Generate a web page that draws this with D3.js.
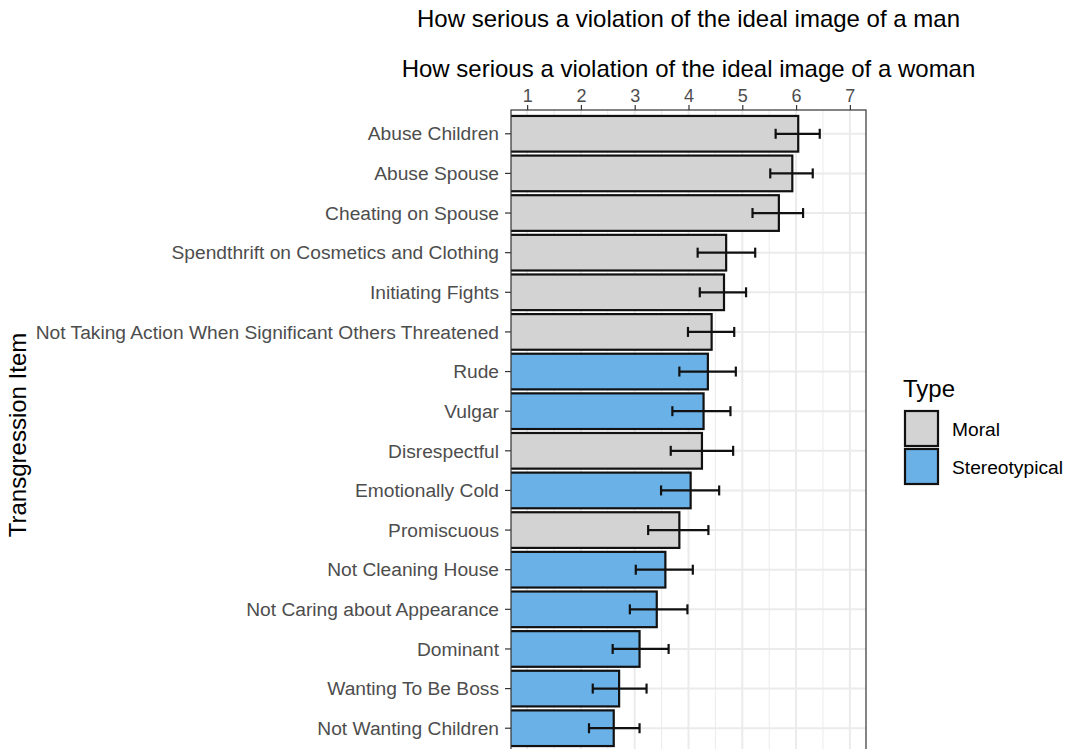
<!DOCTYPE html>
<html>
<head>
<meta charset="utf-8">
<script src="https://cdn.jsdelivr.net/npm/d3@7"></script>
<style>
  body { margin: 0; background: #fff; }
  text { font-family: "Liberation Sans", Arial, sans-serif; }
</style>
</head>
<body>
<div id="container"></div>
<script>
// Data (top to bottom)
const items = ["Abuse Children", "Abuse Spouse", "Cheating on Spouse",
  "Spendthrift on Cosmetics and Clothing", "Initiating Fights",
  "Not Taking Action When Significant Others Threatened", "Rude", "Vulgar",
  "Disrespectful", "Emotionally Cold", "Promiscuous", "Not Cleaning House",
  "Not Caring about Appearance", "Dominant", "Wanting To Be Boss", "Not Wanting Children"];
const means = [6.04, 5.93, 5.68, 4.70, 4.66, 4.43, 4.36, 4.28, 4.25, 4.04, 3.83, 3.57, 3.41, 3.09, 2.71, 2.61];
const lower = [5.62, 5.52, 5.19, 4.17, 4.21, 3.99, 3.83, 3.70, 3.67, 3.49, 3.25, 3.02, 2.91, 2.59, 2.22, 2.15];
const upper = [6.44, 6.31, 6.13, 5.24, 5.07, 4.85, 4.88, 4.78, 4.83, 4.57, 4.37, 4.08, 3.98, 3.63, 3.22, 3.09];
const types = ["Moral", "Moral", "Moral", "Moral", "Moral", "Moral", "Stereotypical", "Stereotypical",
  "Moral", "Stereotypical", "Moral", "Stereotypical", "Stereotypical", "Stereotypical", "Stereotypical", "Stereotypical"];
const typeLevels = ["Moral", "Stereotypical"];
const xTicks = [1, 2, 3, 4, 5, 6, 7];

const data = items.map((d, i) => ({item: d, mean: means[i], lo: lower[i], hi: upper[i], type: types[i]}));

const width = 1075, height = 749;
const panel = {left: 511, right: 866, top: 110, bottom: 752};

const svg = d3.select("#container").append("svg")
  .attr("width", width).attr("height", height);

const x = d3.scaleLinear().domain([0.7, 7.3]).range([panel.left, panel.right]);
// discrete y scale with ggplot-style 0.6 expansion
const y = d3.scalePoint().domain(items)
  .range([0, items.length - 1]);
const step = (panel.bottom - panel.top) / (items.length + 0.2);
const yc = d => panel.top + step * 0.6 + y(d) * step;
const barH = step * 0.9;

const color = d3.scaleOrdinal(typeLevels, ["#d3d3d3", "#6ab1e7"]);

// Panel background + grid
const g = svg.append("g");
g.append("clipPath").attr("id", "panel-clip").append("rect")
  .attr("x", panel.left).attr("y", panel.top)
  .attr("width", panel.right - panel.left).attr("height", panel.bottom - panel.top);

const grid = g.append("g").attr("clip-path", "url(#panel-clip)");
const minor = d3.range(0.5, 7.6, 1);
grid.selectAll(".minor").data(minor).join("line")
  .attr("x1", d => x(d)).attr("x2", d => x(d))
  .attr("y1", panel.top).attr("y2", panel.bottom)
  .attr("stroke", "#ebebeb").attr("stroke-width", 1);
grid.selectAll(".major").data(xTicks).join("line")
  .attr("x1", d => x(d)).attr("x2", d => x(d))
  .attr("y1", panel.top).attr("y2", panel.bottom)
  .attr("stroke", "#ebebeb").attr("stroke-width", 2);
grid.selectAll(".hmajor").data(items).join("line")
  .attr("x1", panel.left).attr("x2", panel.right)
  .attr("y1", d => yc(d)).attr("y2", d => yc(d))
  .attr("stroke", "#ebebeb").attr("stroke-width", 2);

// Bars
grid.selectAll(".bar").data(data).join("rect")
  .attr("x", x(0))
  .attr("y", d => yc(d.item) - barH / 2)
  .attr("width", d => x(d.mean) - x(0))
  .attr("height", barH)
  .attr("fill", d => color(d.type))
  .attr("stroke", "#111")
  .attr("stroke-width", 2.2);

// Error bars
const eb = grid.selectAll(".err").data(data).join("g")
  .attr("stroke", "#111").attr("stroke-width", 2.2);
eb.append("line")
  .attr("x1", d => x(d.lo)).attr("x2", d => x(d.hi))
  .attr("y1", d => yc(d.item)).attr("y2", d => yc(d.item));
eb.append("line")
  .attr("x1", d => x(d.lo)).attr("x2", d => x(d.lo))
  .attr("y1", d => yc(d.item) - 5).attr("y2", d => yc(d.item) + 5);
eb.append("line")
  .attr("x1", d => x(d.hi)).attr("x2", d => x(d.hi))
  .attr("y1", d => yc(d.item) - 5).attr("y2", d => yc(d.item) + 5);

// Panel border
g.append("rect")
  .attr("x", panel.left).attr("y", panel.top)
  .attr("width", panel.right - panel.left).attr("height", panel.bottom - panel.top)
  .attr("fill", "none").attr("stroke", "#333").attr("stroke-width", 1.2);

// Top axis
const xAxis = svg.append("g")
  .attr("transform", `translate(0,${panel.top})`)
  .call(d3.axisTop(x).tickValues(xTicks).tickFormat(d3.format("d")).tickSize(5).tickPadding(3));
xAxis.select(".domain").remove();
xAxis.selectAll("line").attr("stroke", "#333").attr("stroke-width", 1.2);
xAxis.selectAll("text").attr("fill", "#4d4d4d").style("font-size", "18px")
  .style("font-family", "'Liberation Sans', Arial, sans-serif");

// Left axis (categories)
const yAx = svg.append("g");
yAx.selectAll("line").data(items).join("line")
  .attr("x1", panel.left - 6).attr("x2", panel.left)
  .attr("y1", d => yc(d)).attr("y2", d => yc(d))
  .attr("stroke", "#333").attr("stroke-width", 1.2);
yAx.selectAll("text").data(items).join("text")
  .attr("x", panel.left - 12).attr("y", d => yc(d))
  .attr("dy", "0.35em").attr("text-anchor", "end")
  .attr("fill", "#4d4d4d").style("font-size", "19.2px")
  .text(d => d);

// Titles
const cx = (panel.left + panel.right) / 2;
svg.append("text").attr("x", cx).attr("y", 27).attr("text-anchor", "middle")
  .style("font-size", "24px").attr("fill", "#000")
  .text("How serious a violation of the ideal image of a man");
svg.append("text").attr("x", cx).attr("y", 77).attr("text-anchor", "middle")
  .style("font-size", "24px").attr("fill", "#000")
  .text("How serious a violation of the ideal image of a woman");

svg.append("text")
  .attr("transform", `translate(26,${(panel.top + panel.bottom) / 2 + 4}) rotate(-90)`)
  .attr("text-anchor", "middle").style("font-size", "24px").attr("fill", "#000")
  .text("Transgression Item");

// Legend
const legend = svg.append("g").attr("transform", "translate(903,380)");
legend.append("text").attr("x", 0).attr("y", 17).style("font-size", "24px").text("Type");
legend.selectAll("rect").data(typeLevels).join("rect")
  .attr("x", 2).attr("y", (d, i) => 31 + i * 38)
  .attr("width", 33).attr("height", 35)
  .attr("fill", d => color(d)).attr("stroke", "#111").attr("stroke-width", 2.2);
legend.selectAll(".lab").data(typeLevels).join("text")
  .attr("x", 49).attr("y", (d, i) => 49 + i * 38).attr("dy", "0.35em")
  .style("font-size", "19.2px").text(d => d);
</script>
</body>
</html>
